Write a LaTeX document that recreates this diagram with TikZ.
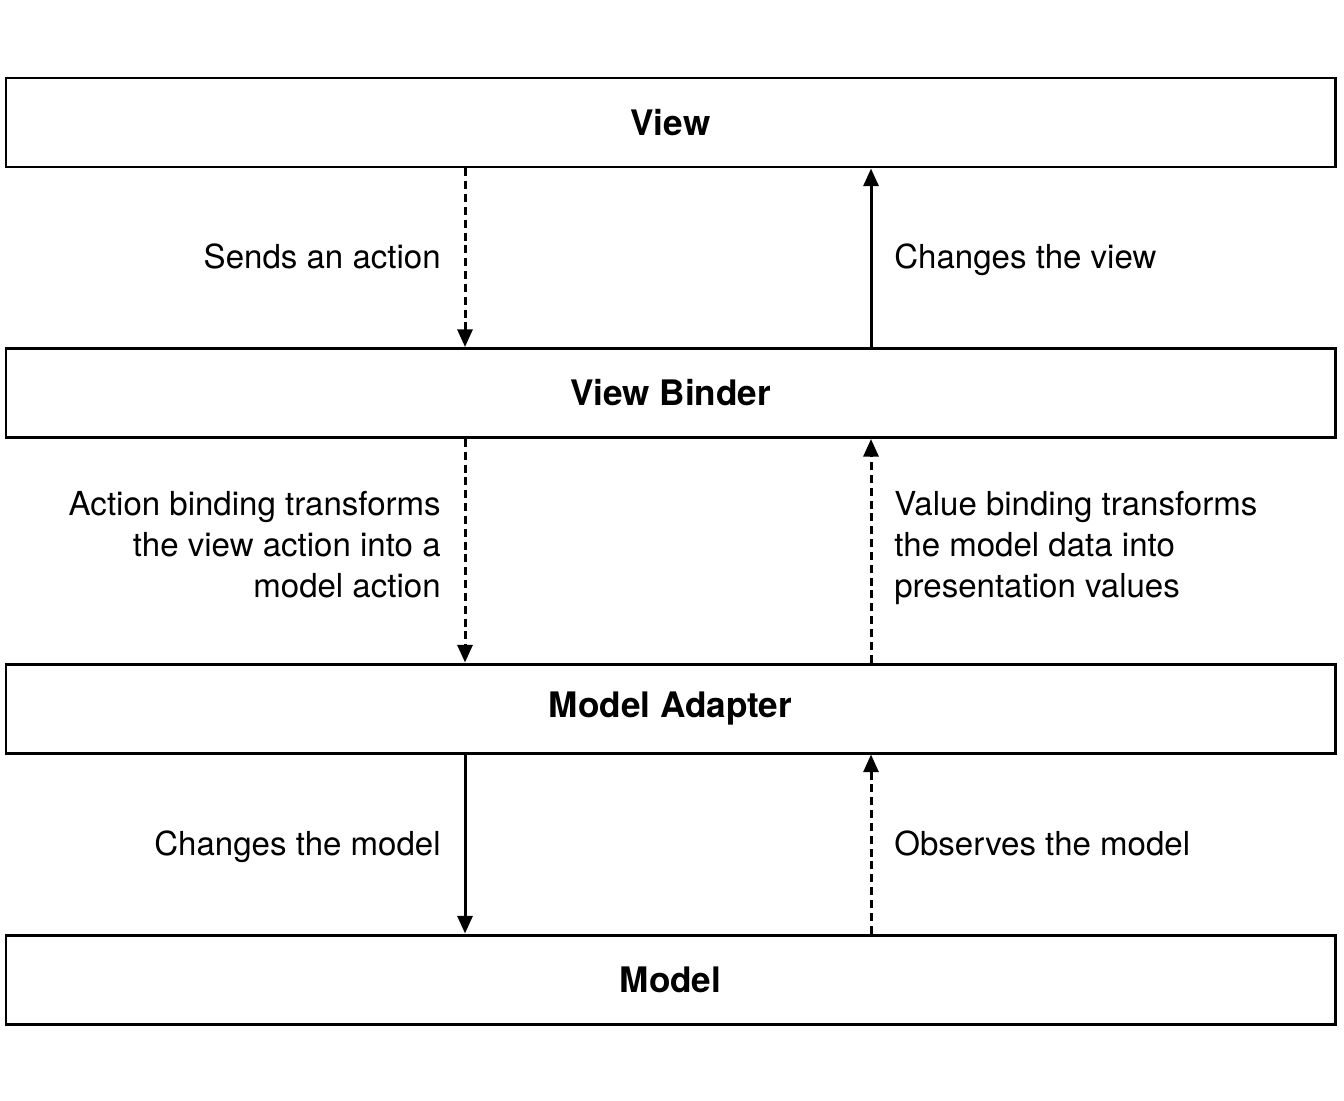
\documentclass[tikz,border=0pt]{standalone}
\usepackage{fontspec}
\setmainfont{TeX Gyre Heros}
\usetikzlibrary{arrows.meta, positioning, calc}

\tikzset{
  layer/.style={draw, line width=1.7pt, minimum width=26.58cm, minimum height=1.78cm,
    font=\fontsize{20}{24}\selectfont\bfseries},
  flow/.style={line width=1.7pt, -{Triangle[length=10pt,width=8.5pt]}},
  weak/.style={flow, dash pattern=on 4.5pt off 2.8pt},
  note/.style={font=\fontsize{18.8}{23.2}\selectfont, inner sep=0pt}
}

\begin{document}
\begin{tikzpicture}
  \useasboundingbox (0,0) rectangle (26.88,-22);

  % Layers
  \node[layer] (view) at (13.41,-2.45) {View};
  \node[layer] (binder) at (13.41,-7.86) {View Binder};
  \node[layer] (adapter) at (13.41,-14.17) {Model Adapter};
  \node[layer] (model) at (13.41,-19.59) {Model};

  % Arrow columns
  \coordinate (lx) at (9.30,0);
  \coordinate (rx) at (17.42,0);

  % View <-> View Binder
  \draw[weak] (view.south -| lx) -- (binder.north -| lx);
  \draw[flow] (binder.north -| rx) -- (view.south -| rx);
  \node[note, anchor=base east] (sends) at (8.82,-5.36) {Sends an action};
  \node[note, anchor=base west] (changesview) at (17.88,-5.36) {Changes the view};

  % View Binder <-> Model Adapter
  \draw[weak] (binder.south -| lx) -- (adapter.north -| lx);
  \draw[weak] (adapter.north -| rx) -- (binder.south -| rx);
  \node[note, anchor=base east, align=right] (actionbind) at (8.82,-11.94)
    {Action binding transforms\\the view action into a\\model action};
  \node[note, anchor=base west, align=left] (valuebind) at (17.88,-11.94)
    {Value binding transforms\\the model data into\\presentation values};

  % Model Adapter <-> Model
  \draw[flow] (adapter.south -| lx) -- (model.north -| lx);
  \draw[weak] (model.north -| rx) -- (adapter.south -| rx);
  \node[note, anchor=base east] (changesmodel) at (8.82,-17.10) {Changes the model};
  \node[note, anchor=base west] (observes) at (17.88,-17.10) {Observes the model};
\end{tikzpicture}
\end{document}
